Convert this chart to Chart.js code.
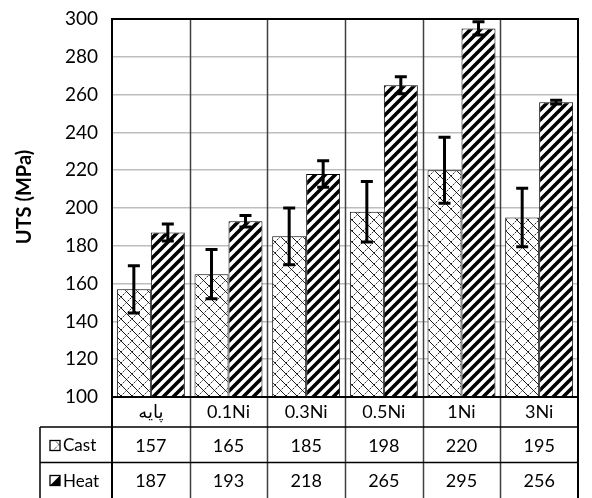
<!DOCTYPE html>
<html>
<head>
<meta charset="utf-8">
<script src="https://cdn.jsdelivr.net/npm/chart.js@4/dist/chart.umd.min.js"></script>
<style>
  html, body { margin: 0; padding: 0; background: #fff; }
  canvas { display: block; }
</style>
</head>
<body>
<canvas id="uts" width="592" height="498"></canvas>
<script>
// Ultimate tensile strength of the alloys, as-cast vs heat-treated
const categories = ['پایه', '0.1Ni', '0.3Ni', '0.5Ni', '1Ni', '3Ni'];
const seriesNames = ['Cast', 'Heat'];
const castUTS = [157, 165, 185, 198, 220, 195];
const heatUTS = [187, 193, 218, 265, 295, 256];
const castErr = [12.5, 13, 15, 16, 17.5, 15.5];
const heatErr = [4.5, 3, 7, 4.5, 3.5, 1];
const yMin = 100, yMax = 300, yStep = 20;
const yTitle = 'UTS (MPa)';

const FONT = 'Lato, "DejaVu Sans", sans-serif';

// Cross-hatch fill for the as-cast bars
function makeCastPattern() {
  const s = 11;
  const c = document.createElement('canvas');
  c.width = s; c.height = s;
  const g = c.getContext('2d');
  g.fillStyle = '#fff';
  g.fillRect(0, 0, s, s);
  g.strokeStyle = '#1a1a1a';
  g.lineWidth = 1;
  g.beginPath();
  g.moveTo(0, 0); g.lineTo(s, s);
  g.stroke();
  g.setLineDash([1.5, 1]);
  g.beginPath();
  g.moveTo(0, s); g.lineTo(s, 0);
  g.stroke();
  return g.createPattern(c, 'repeat');
}

// Wide diagonal stripes for the heat-treated bars
function makeHeatPattern() {
  const c = document.createElement('canvas');
  c.width = 10; c.height = 10;
  const g = c.getContext('2d');
  g.fillStyle = '#fff';
  g.fillRect(0, 0, 10, 10);
  g.strokeStyle = '#000';
  g.lineWidth = 3.6;
  g.beginPath();
  g.moveTo(-5, 5); g.lineTo(5, -5);
  g.moveTo(0, 10); g.lineTo(10, 0);
  g.moveTo(5, 15); g.lineTo(15, 5);
  g.stroke();
  return g.createPattern(c, 'repeat');
}

const castFill = makeCastPattern();
const heatFill = makeHeatPattern();

const errors = [castErr, heatErr];
const values = [castUTS, heatUTS];

// Error bars (I-shaped whiskers) on every bar
const errorBarPlugin = {
  id: 'errorBars',
  afterDatasetsDraw(chart) {
    const ctx = chart.ctx;
    const y = chart.scales.y;
    ctx.save();
    ctx.strokeStyle = '#000';
    ctx.lineWidth = 3;
    chart.data.datasets.forEach((ds, di) => {
      const meta = chart.getDatasetMeta(di);
      meta.data.forEach((bar, i) => {
        const v = ds.data[i], e = errors[di][i];
        const top = y.getPixelForValue(v + e);
        const bot = y.getPixelForValue(v - e);
        const x = bar.x, cap = 6;
        ctx.beginPath();
        ctx.moveTo(x, top); ctx.lineTo(x, bot);
        ctx.moveTo(x - cap, top); ctx.lineTo(x + cap, top);
        ctx.moveTo(x - cap, bot); ctx.lineTo(x + cap, bot);
        ctx.stroke();
      });
    });
    ctx.restore();
  }
};

// Data table under the plot plus the frame, category dividers and axis title
const tablePlugin = {
  id: 'dataTable',
  afterDraw(chart) {
    const ctx = chart.ctx;
    const a = chart.chartArea;
    const xs = chart.scales.x;
    const n = categories.length;
    const cw = (a.right - a.left) / n;
    const H = chart.height;
    const row0 = a.bottom + 30;      // bottom of category-label row
    const rowH = (H - row0) / 2;
    const legendLeft = 40;
    ctx.save();

    // vertical axis title
    ctx.save();
    ctx.translate(25, 197);
    ctx.rotate(-Math.PI / 2);
    ctx.font = 'bold 20px ' + FONT;
    ctx.fillStyle = '#000';
    ctx.textAlign = 'center';
    ctx.textBaseline = 'middle';
    ctx.fillText(yTitle, 0, 0);
    ctx.restore();

    // category dividers through plot and table
    ctx.strokeStyle = '#404040';
    ctx.lineWidth = 1.5;
    for (let i = 1; i < n; i++) {
      const x = Math.round(a.left + i * cw) + 0.5;
      ctx.beginPath();
      ctx.moveTo(x, a.top); ctx.lineTo(x, H);
      ctx.stroke();
    }

    // outer frame
    ctx.strokeStyle = '#000';
    ctx.lineWidth = 2;
    ctx.beginPath();
    ctx.moveTo(a.left, H); ctx.lineTo(a.left, a.top);
    ctx.lineTo(a.right, a.top); ctx.lineTo(a.right, H);
    ctx.moveTo(a.left, a.bottom); ctx.lineTo(a.right, a.bottom);
    ctx.stroke();

    // table rows
    ctx.lineWidth = 1.5;
    ctx.beginPath();
    ctx.moveTo(legendLeft, row0); ctx.lineTo(a.right, row0);
    ctx.moveTo(legendLeft, row0 + rowH); ctx.lineTo(a.right, row0 + rowH);
    ctx.moveTo(legendLeft, row0); ctx.lineTo(legendLeft, H);
    ctx.stroke();

    // row headers with legend keys
    ctx.font = '17px ' + FONT;
    ctx.fillStyle = '#000';
    ctx.textBaseline = 'middle';
    ctx.textAlign = 'left';
    seriesNames.forEach((name, r) => {
      const cy = row0 + rowH * r + rowH / 2;
      const kx = 50, ky = Math.round(cy - 5) + 0.5, ks = 10;
      ctx.fillStyle = '#fff';
      ctx.fillRect(kx, ky, ks, ks);
      ctx.fillStyle = '#000';
      if (r === 0) {
        ctx.save();
        ctx.lineWidth = 1;
        ctx.setLineDash([1, 1]);
        ctx.beginPath();
        ctx.moveTo(kx + 3, ky + ks); ctx.lineTo(kx + ks, ky + 3);
        ctx.moveTo(kx + 5, ky); ctx.lineTo(kx + ks, ky + 5);
        ctx.stroke();
        ctx.restore();
      } else {
        ctx.beginPath();
        ctx.moveTo(kx, ky + ks); ctx.lineTo(kx + ks, ky); ctx.lineTo(kx + ks, ky + ks);
        ctx.closePath();
        ctx.fill();
      }
      ctx.lineWidth = 1.3;
      ctx.strokeRect(kx, ky, ks, ks);
      ctx.fillText(name, 63, cy + 1);
    });

    // values
    ctx.font = '18px ' + FONT;
    ctx.textAlign = 'center';
    values.forEach((arr, r) => {
      const cy = row0 + rowH * r + rowH / 2 + 1;
      arr.forEach((v, i) => {
        ctx.fillText(String(v), xs.getPixelForValue(i), cy);
      });
    });
    ctx.restore();
  }
};

new Chart(document.getElementById('uts'), {
  type: 'bar',
  data: {
    labels: categories,
    datasets: [
      { label: seriesNames[0], data: castUTS, backgroundColor: castFill, borderColor: '#000', borderWidth: 1, borderSkipped: 'bottom' },
      { label: seriesNames[1], data: heatUTS, backgroundColor: heatFill, borderColor: '#000', borderWidth: 1, borderSkipped: 'bottom' }
    ]
  },
  options: {
    responsive: false,
    animation: false,
    events: [],
    layout: { padding: { left: 0, right: 14, top: 19, bottom: 71 } },
    datasets: { bar: { categoryPercentage: 0.875, barPercentage: 1 } },
    plugins: { legend: { display: false }, tooltip: { enabled: false } },
    scales: {
      x: {
        grid: { display: false, drawTicks: false, tickLength: 0 },
        border: { display: false },
        ticks: { color: '#000', font: { family: FONT, size: 18 }, padding: 4, maxRotation: 0 },
        afterFit(s) { s.height = 30; s.paddingLeft = 0; s.paddingRight = 0; }
      },
      y: {
        min: yMin, max: yMax,
        grid: { color: '#bdbdbd', lineWidth: 1.5, drawTicks: false },
        border: { display: false },
        ticks: { stepSize: yStep, color: '#000', font: { family: FONT, size: 19 }, padding: 14 },
        afterFit(s) { s.width = 112; s.paddingTop = 0; s.paddingBottom = 0; }
      }
    }
  },
  plugins: [errorBarPlugin, tablePlugin]
});
</script>
</body>
</html>
